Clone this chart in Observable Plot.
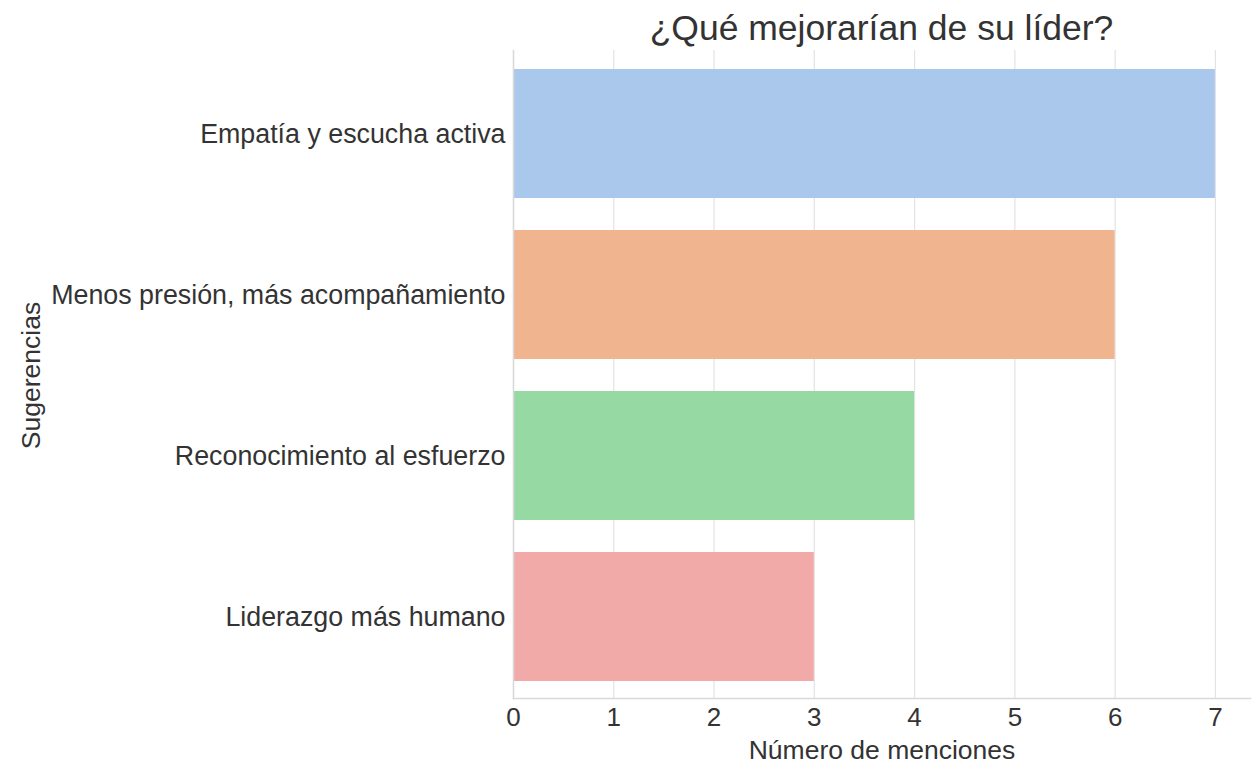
<!DOCTYPE html>
<html>
<head>
<meta charset="utf-8">
<script src="https://cdn.jsdelivr.net/npm/d3@7"></script>
<script src="https://cdn.jsdelivr.net/npm/@observablehq/plot@0.6"></script>
<style>
  body { margin: 0; background: #fff; font-family: "Liberation Sans", Arial, sans-serif; }
  #wrap { width: 1259px; }
  #title { height: 48px; margin-left: 513px; width: 737px; text-align: center;
           font-size: 35.5px; color: #333; line-height: 56px; white-space: nowrap; }
</style>
</head>
<body>
<div id="wrap">
  <div id="title">¿Qué mejorarían de su líder?</div>
  <div id="chart"></div>
</div>
<script>
// Suggestions and how many times each was mentioned
const sugerencias = [
  "Empatía y escucha activa",
  "Menos presión, más acompañamiento",
  "Reconocimiento al esfuerzo",
  "Liderazgo más humano"
];
const menciones = [7, 6, 4, 3];
const colores = ["#aac8ec", "#f0b48e", "#97d9a3", "#f2aaa9"];
const xTicks = [0, 1, 2, 3, 4, 5, 6, 7];

const data = sugerencias.map((s, i) => ({ sugerencia: s, menciones: menciones[i] }));

const chart = Plot.plot({
  width: 1259,
  height: 718,
  marginTop: 4,
  marginBottom: 68,
  marginLeft: 513,
  marginRight: 9,
  style: { fontFamily: "Liberation Sans, Arial, sans-serif", color: "#333", background: "#fff" },
  x: { domain: [0, 7.35] },
  y: { domain: sugerencias, paddingInner: 0.2, paddingOuter: 0.1 },
  color: { domain: sugerencias, range: colores },
  marks: [
    // vertical grid lines, reaching slightly above the frame
    Plot.ruleX(xTicks, { stroke: "#e3e3e3", strokeWidth: 1.2, insetTop: -2 }),
    Plot.barX(data, { x: "menciones", y: "sugerencia", fill: "sugerencia" }),
    Plot.frame({ anchor: "left", stroke: "#d9d9d9", strokeWidth: 1.5, insetTop: -2 }),
    Plot.frame({ anchor: "bottom", stroke: "#d9d9d9", strokeWidth: 1.5 }),
    Plot.axisX({ ticks: xTicks, tickSize: 0, tickPadding: 9, fontSize: 26,
                 label: "Número de menciones", labelAnchor: "center", labelArrow: "none",
                 labelOffset: 60 }),
    Plot.axisY({ tickSize: 0, tickPadding: 8, fontSize: 26.8,
                 label: "Sugerencias", labelAnchor: "center", labelArrow: "none",
                 labelOffset: 492 })
  ]
});

// Axis label sizes
chart.querySelectorAll("g[aria-label='x-axis label'] text, g[aria-label='y-axis label'] text")
  .forEach(t => t.setAttribute("font-size", "26.5"));

document.getElementById("chart").appendChild(chart);
</script>
</body>
</html>
